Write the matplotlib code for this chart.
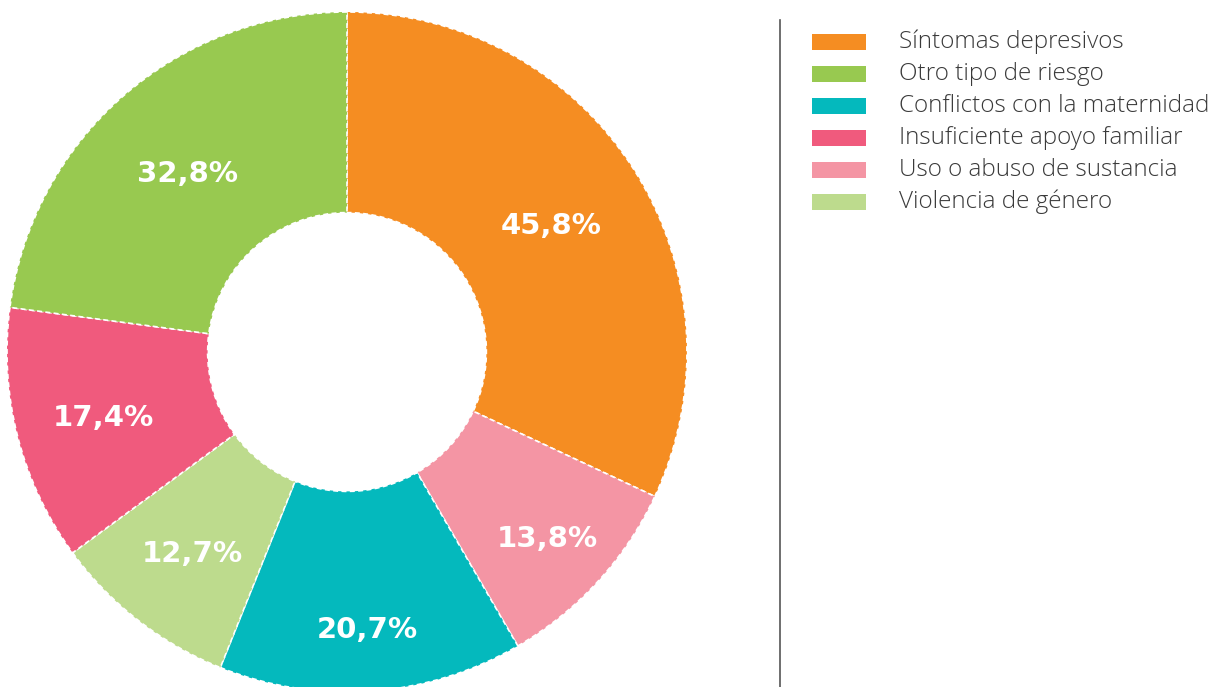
import matplotlib
matplotlib.use("Agg")
import numpy as np
from matplotlib import pyplot as plt
from matplotlib.patches import Rectangle

# Datos (orden en sentido horario desde arriba)
categorias = ["Síntomas depresivos", "Uso o abuso de sustancia", "Conflictos con la maternidad",
              "Violencia de género", "Insuficiente apoyo familiar", "Otro tipo de riesgo"]
valores = [45.8, 13.8, 20.7, 12.7, 17.4, 32.8]
colores = ["#F58D22", "#F495A4", "#04B9BD", "#BDDB8D", "#F05A7D", "#98C950"]
etiquetas = ["45,8%", "13,8%", "20,7%", "12,7%", "17,4%", "32,8%"]
dist_etiqueta = [0.71, 0.80, 0.81, 0.74, 0.74, 0.71]

orden_leyenda = ["Síntomas depresivos", "Otro tipo de riesgo", "Conflictos con la maternidad",
                 "Insuficiente apoyo familiar", "Uso o abuso de sustancia", "Violencia de género"]

W, H = 1216, 687
fig = plt.figure(figsize=(W / 100, H / 100), dpi=100)

# Donut
ax = fig.add_axes([7 / W, -5 / H, 680 / W, 680 / H])
wedges, _ = ax.pie(valores, colors=colores, startangle=90, counterclock=False, radius=1,
                   wedgeprops=dict(width=0.59, edgecolor="white", linewidth=1.2, linestyle=(0, (3, 2))))
ax.set_xlim(-1, 1)
ax.set_ylim(-1, 1)
ax.set_aspect("equal")
ax.axis("off")

for w, txt, d in zip(wedges, etiquetas, dist_etiqueta):
    ang = np.deg2rad((w.theta1 + w.theta2) / 2)
    ax.text(d * np.cos(ang), d * np.sin(ang) - 0.01, txt, ha="center", va="center",
            color="white", fontsize=21, fontweight="bold", family="DejaVu Sans")

# Línea vertical separadora
fig.add_artist(plt.Line2D([780 / W, 780 / W], [0, 1 - 20 / H], color="#555555", linewidth=1.2))

# Leyenda manual
for i, nombre in enumerate(orden_leyenda):
    yc = 42 + i * 32
    col = colores[categorias.index(nombre)]
    fig.add_artist(Rectangle((812 / W, 1 - (yc + 8) / H), 54 / W, 16 / H,
                             transform=fig.transFigure, color=col, lw=0))
    fig.text(899 / W, 1 - yc / H, nombre, ha="left", va="center", fontsize=17.5,
             color="#3a3a3a", fontweight="light", family=["Open Sans", "DejaVu Sans"])

fig.savefig("out.png", dpi=100, facecolor="white")
